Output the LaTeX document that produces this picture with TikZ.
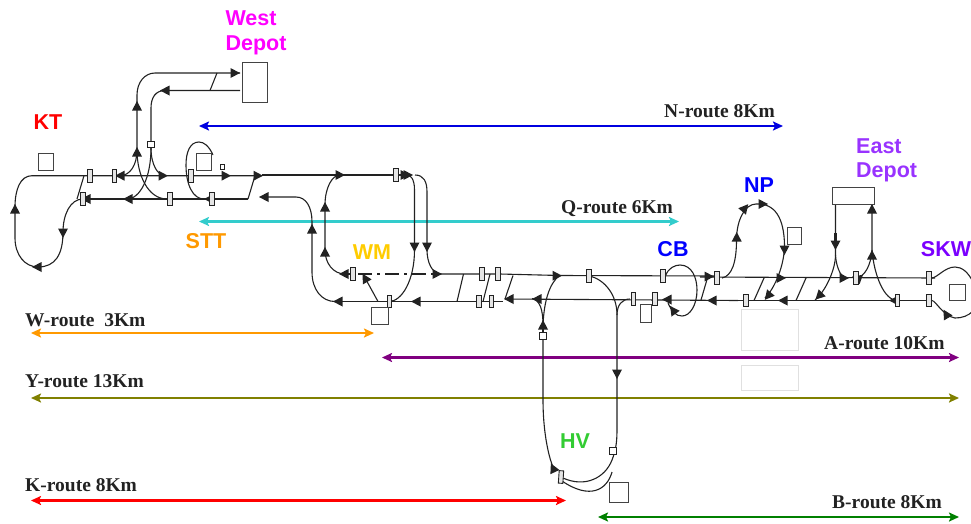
\documentclass[tikz,border=0pt]{standalone}
\usepackage{fontspec}
\setmainfont{Liberation Serif}
\newfontfamily\lblfont{Liberation Sans}
\usetikzlibrary{arrows.meta}
\definecolor{trk}{HTML}{222222}
\definecolor{cKT}{HTML}{FF0000}
\definecolor{cWD}{HTML}{FF00FF}
\definecolor{cST}{HTML}{FF9900}
\definecolor{cWM}{HTML}{FFCC00}
\definecolor{cCB}{HTML}{0000FF}
\definecolor{cED}{HTML}{9933FF}
\definecolor{cSK}{HTML}{7B00FF}
\definecolor{cHV}{HTML}{33CC33}
\definecolor{rN}{HTML}{0000E0}
\definecolor{rQ}{HTML}{33CCCC}
\definecolor{rW}{HTML}{FF9900}
\definecolor{rA}{HTML}{800080}
\definecolor{rY}{HTML}{808000}
\definecolor{rK}{HTML}{FF0000}
\definecolor{rB}{HTML}{008000}
\tikzset{
 track/.style={draw=trk,line width=1.1pt},
 roombox/.style={draw=trk!85,line width=.95pt,fill=white,inner sep=0pt,outer sep=0pt,minimum width=#1},
 sigbox/.style={draw=trk,line width=.9pt,fill=black!10,inner sep=0pt,outer sep=0pt,minimum width=4.5pt,minimum height=12.5pt},
 smallbox/.style={draw=trk,line width=.9pt,fill=white,inner sep=0pt,outer sep=0pt,minimum width=7pt,minimum height=6.5pt},
 stlabel/.style={font=\lblfont\bfseries\fontsize{21.5}{21.5}\selectfont,inner sep=0pt},
 rtlabel/.style={font=\bfseries\fontsize{19.5}{19.5}\selectfont,inner sep=0pt,anchor=base west,text=trk},
 route/.style={line width=2.4pt,{Stealth[length=10pt,width=9pt,inset=2pt]}-{Stealth[length=10pt,width=9pt,inset=2pt]}},
 ghost/.style={draw=black!12,line width=.8pt,fill=white},
}
\newcommand\hd[3]{\fill[trk,shift={(#1,#2)},rotate=#3] (5,0) -- (-4.5,5) -- (-4.5,-5) -- cycle;}
\newcommand\sg[2]{\node[sigbox] (s-#1-#2) at (#1,#2) {};}
\newcommand\smb[2]{\node[smallbox] (b-#1-#2) at (#1,#2) {};}
\begin{document}
\begin{tikzpicture}[x=1pt,y=-1pt]
\useasboundingbox (0,0) rectangle (971,523);
% ghost boxes
\draw[ghost] (741,309) rectangle (798,350);
\draw[ghost] (741,365) rectangle (798,390);
% route arrows
\coordinate (n1) at (199,126); \coordinate (n2) at (783,126);
\coordinate (q1) at (199,221.5); \coordinate (q2) at (679,221.5);
\coordinate (w1) at (31,333); \coordinate (w2) at (374,333);
\coordinate (a1) at (382,357.5); \coordinate (a2) at (959,357.5);
\coordinate (y1) at (31,398); \coordinate (y2) at (959,398);
\coordinate (k1) at (31,500.5); \coordinate (k2) at (566,500.5);
\coordinate (b1) at (598,517); \coordinate (b2) at (959,517);
\draw[route,rN] (n1) -- (n2);
\draw[route,rQ] (q1) -- (q2);
\draw[route,rW] (w1) -- (w2);
\draw[route,rA] (a1) -- (a2);
\draw[route,rY] (y1) -- (y2);
\draw[route,rK] (k1) -- (k2);
\draw[route,rB] (b1) -- (b2);
% left part tracks
\draw[track] (262,175.7) -- (32,175.7) .. controls (20,175.7) and (15,190) .. (15,207) -- (15,238) .. controls (15,255) and (25,267) .. (38,267) .. controls (55,267) and (63,255) .. (63,232) .. controls (63,215) and (70,199) .. (83,199);
\draw[track] (80,199) -- (248,199);
\draw[track] (84,175.7) -- (77,199);
\draw[track] (255,175.7) -- (248,199);
% west depot
\draw[track] (240,73) -- (155,73) .. controls (145,73) and (137,82) .. (137,95) -- (137,150) .. controls (137,165) and (130,175.7) .. (120,175.7);
\draw[track] (137,150) .. controls (137,175) and (148,199) .. (167,199);
\draw[track] (240,90.5) -- (165,90.5) .. controls (156,90.5) and (151,97) .. (151,108) -- (151,148) .. controls (151,165) and (158,175.7) .. (165,175.7);
\draw[track] (151,148) .. controls (151,178) and (140,199) .. (127,199);
\draw[track] (217,73) -- (210,90.5);
% STT loop
\draw[track] (213,155) .. controls (209,146) and (204,142) .. (199,142) .. controls (190,142) and (186,152) .. (186,165) .. controls (186,185) and (193,199) .. (204,199);
% middle
\draw[track] (262,175) -- (410,175);
\draw[track] (263,197) -- (296,197) .. controls (306,197) and (312,207) .. (312,222) -- (312,272) .. controls (312,290) and (322,301.5) .. (335,301.5);
\draw[track] (335,301.5) -- (503,301.5);
\draw[track] (340,175) .. controls (332,175) and (325,188) .. (325,205) -- (325,250) .. controls (325,263) and (333,274) .. (345,274);
\draw[track] (345,274) -- (355,274);
\draw[track,dash pattern=on 14pt off 5pt on 3pt off 5pt] (358,274) -- (438,274);
\draw[track] (407,175) .. controls (410,175) and (414.5,178) .. (414.5,190) -- (414.5,250) .. controls (414.5,280) and (402,301.5) .. (389,301.5);
\draw[track] (415,175) .. controls (424,175) and (427,182) .. (427,192) -- (427,250) .. controls (427,262) and (432,274) .. (441,274);
\draw[track] (378,301.5) -- (364,276);
\draw[track] (438,274) -- (500,274) -- (560,275.5) -- (718,276);
\draw[track] (463.5,274) -- (457,301.5);
\draw[track] (490,274) -- (483,301.5);
\draw[track] (513,275.5) -- (505,299);
\draw[track] (505,299) -- (738,300.5);
\draw[track] (543,336) -- (543,323);
\draw[track] (543,325) .. controls (543,310) and (540,300) .. (532,298.5);
\draw[track] (543,325) .. controls (544,300) and (550,283) .. (559,276);
% central down lines
\draw[track] (590,276) .. controls (605,280) and (617,295) .. (617,315) -- (617,430) .. controls (617,445) and (615,452) .. (612,460) .. controls (605,478) and (585,488) .. (563,478);
\draw[track] (617,315) .. controls (617,305) and (622,299) .. (630,299);
\draw[track] (612,472) .. controls (607,490) and (590,500) .. (562,481);
\draw[track] (543,336) -- (543,400) .. controls (543,430) and (548,455) .. (553,467);
\draw[track] (708,276) -- (701,300);
% CB loop
\draw[track] (665.5,276) .. controls (668,268) and (675,265) .. (680,265) .. controls (692,265) and (697,278) .. (697,290) .. controls (697,305) and (690,316) .. (682,316) .. controls (676,316) and (672,312) .. (668,303);
% right
\draw[track] (700,277) -- (935,278);
\draw[track] (701,300.5) -- (932,300.5);
\draw[track] (722,278) .. controls (732,276) and (736.5,262) .. (736.5,240) .. controls (736.5,220) and (745,204) .. (756,204) .. controls (775,203) and (784,218) .. (784.5,245) .. controls (784.5,265) and (775,288) .. (765,298);
\draw[track] (764,278) -- (754,300.5);
\draw[track] (806,278) -- (796,300.5);
\draw[track] (835.5,204) -- (835.5,255) .. controls (835.5,270) and (825,292) .. (815,300);
\draw[track] (835.5,255) .. controls (836,265) and (840,277) .. (846,278);
\draw[line width=3pt,trk] (835.5,233) -- (835.5,246);
\draw[track] (872,204) -- (872,250) .. controls (871,265) and (865,276) .. (857,278);
\draw[track] (872,250) .. controls (874,275) and (884,300) .. (897,300.5);
% SKW loop
\draw[track] (932,278) .. controls (938,277) and (945,267) .. (955,267) .. controls (962,267) and (968,272) .. (973,282);
\draw[track] (932,300.5) .. controls (936,301) and (943,316) .. (955,318) .. controls (962,318) and (968,316) .. (973,311);
% arrowheads
\hd{15}{209}{90}\hd{63}{233}{270}\hd{37}{267}{180}
\hd{86}{199}{180}\hd{128}{199}{180}\hd{163}{175.7}{0}\hd{226}{175.7}{0}\hd{258}{175.7}{0}
\hd{120}{175.7}{180}\hd{209}{199}{180}
\hd{137}{106}{90}\hd{137}{152}{90}\hd{235}{73}{0}\hd{165}{90.5}{180}
\hd{264}{197}{180}\hd{340}{175}{0}\hd{405}{175}{0}\hd{408}{175}{0}
\hd{312}{229}{90}\hd{325}{207}{90}\hd{325}{252}{90}\hd{344}{274}{180}
\hd{414.5}{247}{270}\hd{427}{247}{270}\hd{437}{274}{0}
\hd{338}{301.5}{180}\hd{416}{301.5}{180}\hd{365}{278}{120}
\hd{509}{299}{180}\hd{537}{299}{180}\hd{557}{275.7}{0}
\hd{543}{325}{90}\hd{617}{374}{270}\hd{553}{468}{115}
\hd{667}{299.5}{180}\hd{673}{310}{125}\hd{709}{276.5}{0}\hd{712}{300.5}{180}
\hd{736.7}{237}{90}\hd{745}{208}{50}\hd{763}{204}{0}\hd{784.5}{250}{270}
\hd{768}{296}{230}\hd{781}{278}{0}\hd{783}{300.5}{180}
\hd{835.5}{245}{270}\hd{819}{296}{225}\hd{844}{278}{0}
\hd{872}{209}{90}\hd{872}{255}{90}\hd{894}{300.5}{180}\hd{857}{278}{160}\hd{946}{314}{120}
% signals
\sg{90}{176}\sg{114.5}{176}\sg{83}{199}\sg{170}{199}\sg{212}{199}\sg{191}{176}
\sg{396}{175}\sg{353}{274}\sg{389.5}{301.5}\sg{482}{274}\sg{498}{274}\sg{479}{301.5}\sg{491.5}{301.5}
\sg{589}{276}\sg{663}{276}\sg{633.5}{299}\sg{655}{299}\sg{717}{278}\sg{746}{300.5}
\sg{856}{278}\sg{929}{278}\sg{897.5}{300.5}\sg{929}{300.5}
\node[sigbox,rotate=-4] (sHV) at (561,477) {};
\smb{151}{144.5}\smb{543}{336}\smb{612.5}{451}
\node[draw=trk,line width=.7pt,fill=white,inner sep=0pt,minimum width=3.5pt,minimum height=5pt] (sm) at (222.5,167) {};
% stations boxes
\node[roombox=25pt,minimum height=40pt] (westdepot) at (254.5,82) {};
\node[roombox=14.5pt,minimum height=17pt] (ktbox) at (46,161.5) {};
\node[roombox=15pt,minimum height=17pt] (sttbox) at (203.5,161.5) {};
\node[roombox=17pt,minimum height=17pt] (wmbox) at (379.5,315.5) {};
\node[roombox=11pt,minimum height=18pt] (cbbox) at (645.5,313) {};
\node[roombox=14pt,minimum height=17pt] (npbox) at (794,235.5) {};
\node[roombox=42pt,minimum height=17pt] (eastdepot) at (853,195.5) {};
\node[roombox=16pt,minimum height=16pt] (skwbox) at (957,292) {};
\node[roombox=19pt,minimum height=20pt] (hvbox) at (619,492.5) {};
% station labels
\node[stlabel,text=cKT] (kt) at (48,122) {KT};
\node[stlabel,text=cWD] (wd1) at (251,18) {West};
\node[stlabel,text=cWD] (wd2) at (256,45) {Depot};
\node[stlabel,text=cST] (stt) at (206,241) {STT};
\node[stlabel,text=cWM] (wm) at (372,252) {WM};
\node[stlabel,text=cCB] (cb) at (673,249) {CB};
\node[stlabel,text=cCB] (np) at (759,185) {NP};
\node[stlabel,text=cED,anchor=west] (ed1) at (856,146) {East};
\node[stlabel,text=cED,anchor=west] (ed2) at (856,172) {Depot};
\node[stlabel,text=cSK] (skw) at (946,249) {SKW};
\node[stlabel,text=cHV] (hv) at (575,441) {HV};
% route labels
\node[rtlabel] (ln) at (664,117) {N-route 8Km};
\node[rtlabel] (lq) at (561,213) {Q-route 6Km};
\node[rtlabel] (lw) at (25,326) {W-route\ \ 3Km};
\node[rtlabel] (la) at (824,349) {A-route 10Km};
\node[rtlabel] (ly) at (25,387) {Y-route 13Km};
\node[rtlabel] (lk) at (25,491) {K-route 8Km};
\node[rtlabel] (lb) at (832,508) {B-route 8Km};
\end{tikzpicture}
\end{document}
